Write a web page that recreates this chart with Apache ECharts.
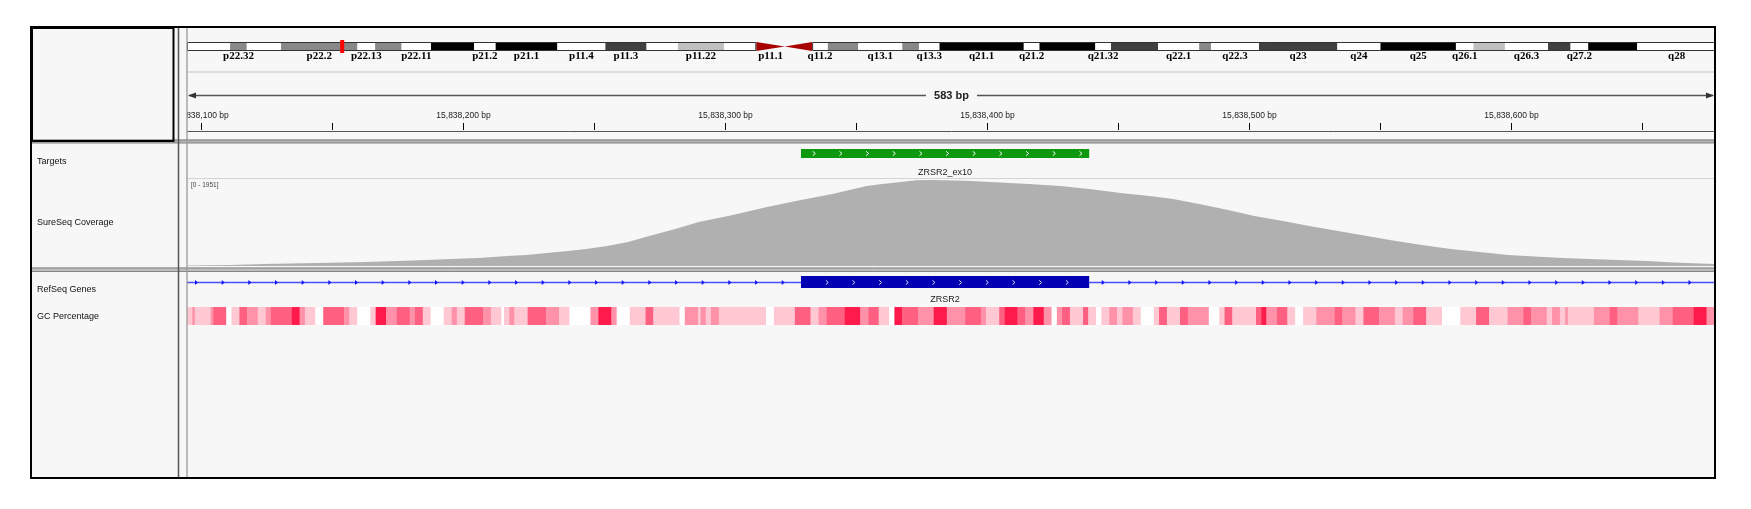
<!DOCTYPE html>
<html><head><meta charset="utf-8">
<script src="https://cdn.jsdelivr.net/npm/echarts@6/dist/echarts.min.js"></script>
<style>html,body{margin:0;padding:0;background:#fff;}#c{width:1751px;height:509px;}</style>
</head><body><div id="c"></div>
<script>
// ---------------- data ----------------
const viewStart = 15838094.66, viewEnd = 15838678.24;
const chromLength = 156040895;
const cursorPos = 15838386;
const bandNames  = ['p22.33','p22.32','p22.31','p22.2','p22.13','p22.12','p22.11','p21.3','p21.2','p21.1','p11.4','p11.3','p11.23','p11.22','p11.21','p11.1','q11.1','q11.2','q12','q13.1','q13.2','q13.3','q21.1','q21.2','q21.31','q21.32','q21.33','q22.1','q22.2','q22.3','q23','q24','q25','q26.1','q26.2','q26.3','q27.1','q27.2','q27.3','q28'];
const bandStarts = [0,4400000,6100000,9600000,17400000,19200000,21900000,24900000,29300000,31500000,37800000,42700000,46900000,50100000,54800000,58100000,61000000,63800000,65400000,68500000,73000000,74700000,76800000,85400000,87000000,92700000,94300000,99100000,103300000,104500000,109400000,117400000,121800000,129500000,131300000,134500000,138900000,141200000,143000000,148000000];
const bandEnds   = [4400000,6100000,9600000,17400000,19200000,21900000,24900000,29300000,31500000,37800000,42700000,46900000,50100000,54800000,58100000,61000000,63800000,65400000,68500000,73000000,74700000,76800000,85400000,87000000,92700000,94300000,99100000,103300000,104500000,109400000,117400000,121800000,129500000,131300000,134500000,138900000,141200000,143000000,148000000,156040895];
const bandStains = ['gneg','gpos50','gneg','gpos50','gneg','gpos50','gneg','gpos100','gneg','gpos100','gneg','gpos75','gneg','gpos25','gneg','acen','acen','gneg','gpos50','gneg','gpos50','gneg','gpos100','gneg','gpos100','gneg','gpos75','gneg','gpos50','gneg','gpos75','gneg','gpos100','gneg','gpos25','gneg','gpos75','gneg','gpos100','gneg'];
const bandLabels = ['p22.32','p22.2','p22.13','p22.11','p21.2','p21.1','p11.4','p11.3','p11.22','p11.1','q11.2','q13.1','q13.3','q21.1','q21.2','q21.32','q22.1','q22.3','q23','q24','q25','q26.1','q26.3','q27.2','q28'];

const tickPositions = [15838100,15838150,15838200,15838250,15838300,15838350,15838400,15838450,15838500,15838550,15838600,15838650];
const tickLabels = ['15,838,100 bp','','15,838,200 bp','','15,838,300 bp','','15,838,400 bp','','15,838,500 bp','','15,838,600 bp',''];
const spanLabel = '583 bp';

const targetName = 'ZRSR2_ex10';
const targetStart = 15838329, targetEnd = 15838439;
const geneName = 'ZRSR2';
const geneStart = 15790000, geneEnd = 15845000;
const exonStart = 15838329, exonEnd = 15838439;

const covRangeLabel = '[0 - 1951]';
const covMax = 1951;
const covPos = [15838095,15838111,15838124,15838144,15838163,15838175,15838186,15838195,15838206,15838217,15838224,15838232,15838240,15838247,15838255,15838263,15838271,15838281,15838290,15838303,15838316,15838329,15838341,15838354,15838360,15838367,15838373,15838379,15838392,15838405,15838416,15838428,15838439,15838451,15838462,15838471,15838481,15838492,15838502,15838513,15838523,15838534,15838545,15838556,15838566,15838577,15838588,15838599,15838609,15838620,15838630,15838641,15838652,15838662,15838672,15838678];
const covVal = [11,22,45,67,90,112,135,157,179,224,247,291,336,381,448,538,672,829,986,1142,1322,1478,1613,1792,1837,1882,1925,1930,1910,1870,1837,1792,1725,1635,1568,1501,1389,1254,1120,1008,896,784,672,560,470,381,314,246,213,179,157,134,112,78,56,45];

// GC percentage track: [offset from gcOrigin (bp), GC class 0..4]
const gcOrigin = 15838094.66;
const gcTrackEnd = 584;
const gcRuns = [[0,1],[2,2],[3,1],[9,2],[10,3],[15,0],[17,1],[20,3],[23,2],[27,1],[30,2],[32,3],[40,4],[43,2],[45,1],[49,0],[52,3],[60,2],[62,1],[65,0],[70,1],[72,4],[76,2],[80,3],[85,2],[87,3],[90,1],[93,0],[98,1],[101,2],[103,1],[106,3],[113,2],[116,1],[120,0],[121,1],[123,2],[125,1],[130,3],[137,2],[142,1],[146,0],[154,2],[157,4],[162,2],[164,0],[169,1],[175,3],[178,1],[188,0],[190,2],[195,1],[196,2],[198,1],[200,2],[203,1],[221,0],[224,1],[232,3],[238,1],[241,2],[244,3],[251,4],[257,2],[260,3],[264,1],[268,0],[270,4],[273,3],[279,2],[285,4],[290,2],[297,3],[303,2],[305,1],[310,3],[312,4],[317,3],[320,2],[323,4],[327,2],[330,0],[332,2],[334,3],[337,1],[342,3],[344,1],[347,0],[349,1],[352,2],[355,1],[357,2],[361,1],[364,0],[369,1],[371,3],[374,1],[379,3],[382,2],[390,0],[394,1],[396,3],[399,1],[408,3],[410,4],[412,2],[416,3],[420,1],[423,0],[426,1],[431,2],[438,3],[441,2],[446,1],[449,3],[455,2],[461,1],[464,2],[468,3],[473,1],[479,0],[486,1],[492,3],[497,1],[504,2],[510,3],[513,2],[519,1],[521,2],[524,1],[526,2],[527,1],[537,2],[543,3],[546,2],[554,1],[562,2],[567,3],[575,4],[580,2]];

const trackNames = ['Targets','SureSeq Coverage','RefSeq Genes','GC Percentage'];

// ---------------- styles ----------------
const stainColor = {gneg:'#ffffff', gpos25:'#c0c0c0', gpos50:'#888888', gpos75:'#404040', gpos100:'#000000'};
const gcColors = ['#ffffff','#ffc8d3','#ff92a8','#ff5f80','#ff1a4c'];
const SANS = '"Liberation Sans", Arial, sans-serif';
const L = 187, W = 1529;

const chart = echarts.init(document.getElementById('c'), null, {renderer:'canvas', width:1751, height:509});

const pEnd = bandStarts[bandStains.indexOf('acen')];
const qStart = bandEnds[bandStains.lastIndexOf('acen')];

const grids = [
  {left:L, width:W, top:42, height:9},
  {left:L, width:W, top:27, height:114},
  {left:L, width:W, top:142, height:37},
  {left:L, width:W, top:179, height:87},
  {left:L, width:W, top:273, height:30},
  {left:L, width:W, top:307, height:18}
].map(g => Object.assign(g, {containLabel:false, outerBoundsMode:'none'}));

const xAxes = [{gridIndex:0, type:'value', min:0, max:chromLength, show:false}];
for (let g = 1; g < 6; g++) xAxes.push({gridIndex:g, type:'value', min:viewStart, max:viewEnd, show:false});
const yAxes = [];
for (let g = 0; g < 6; g++) yAxes.push({gridIndex:g, type:'value', min:0, max:(g===3?covMax:1), show:false});

const series = [];

// ideogram bands
series.push({
  type:'custom', xAxisIndex:0, yAxisIndex:0, clip:false, silent:true, z:3,
  data: bandNames.map((n,i)=>[bandStarts[i], bandEnds[i], i]),
  renderItem(params, api){
    const i = api.value(2);
    const cs = params.coordSys;
    const x1 = api.coord([api.value(0),0])[0], x2 = api.coord([api.value(1),0])[0];
    const y = cs.y, h = cs.height;
    const ch = [];
    if (bandStains[i] === 'acen') {
      const ym = y + h/2;
      const pts = bandNames[i][0] === 'p' ? [[x1,y],[x2,ym],[x1,y+h]] : [[x2,y],[x1,ym],[x2,y+h]];
      ch.push({type:'polygon', shape:{points:pts}, style:{fill:'#a80000'}});
    } else {
      ch.push({type:'rect', shape:{x:x1, y:y, width:x2-x1, height:h}, style:{fill:stainColor[bandStains[i]]}});
    }
    if (bandLabels.indexOf(bandNames[i]) >= 0) {
      ch.push({type:'text', style:{text:bandNames[i], x:(x1+x2)/2, y:y+h+5.5, align:'center', verticalAlign:'middle', font:'bold 11px "Liberation Serif", serif', fill:'#000'}});
    }
    return {type:'group', children:ch};
  }
});
// chromosome arm outlines + cursor
series.push({
  type:'custom', xAxisIndex:0, yAxisIndex:0, clip:false, silent:true, z:4,
  data: [[0, pEnd, 0],[qStart, chromLength, 0],[cursorPos, cursorPos, 1]],
  renderItem(params, api){
    const cs = params.coordSys;
    const x1 = api.coord([api.value(0),0])[0], x2 = api.coord([api.value(1),0])[0];
    if (api.value(2) === 1) {
      return {type:'rect', shape:{x:x1-2, y:cs.y-2, width:4, height:cs.height+4}, style:{fill:'#ff0000'}};
    }
    return {type:'rect', shape:{x:x1+0.5, y:cs.y+0.5, width:x2-x1-1, height:cs.height-1}, style:{fill:null, stroke:'#333', lineWidth:1}};
  }
});

// ruler ticks & labels
series.push({
  type:'custom', xAxisIndex:1, yAxisIndex:1, clip:true, silent:true, z:3,
  data: tickPositions.map((p,i)=>[p,i]),
  renderItem(params, api){
    const x = Math.round(api.coord([api.value(0),0])[0]) + 0.5;
    const i = api.value(1);
    const ch = [{type:'line', shape:{x1:x, y1:123, x2:x, y2:130}, style:{stroke:'#000', lineWidth:1}}];
    if (tickLabels[i]) ch.push({type:'text', style:{text:tickLabels[i], x:x, y:116, align:'center', verticalAlign:'middle', font:'8.5px ' + SANS, fill:'#222'}});
    return {type:'group', children:ch};
  }
});
// span line
series.push({
  type:'custom', xAxisIndex:1, yAxisIndex:1, clip:false, silent:true, z:3,
  data: [[viewStart, viewEnd]],
  renderItem(params, api){
    const x1 = api.coord([api.value(0),0])[0], x2 = api.coord([api.value(1),0])[0];
    const y = 95.5, c = (x1+x2)/2, gap = 25.5;
    return {type:'group', children:[
      {type:'line', shape:{x1:x1+2, y1:y, x2:c-gap, y2:y}, style:{stroke:'#555', lineWidth:1.5}},
      {type:'line', shape:{x1:c+gap, y1:y, x2:x2-3, y2:y}, style:{stroke:'#555', lineWidth:1.5}},
      {type:'polygon', shape:{points:[[x1+1,y],[x1+9,y-3],[x1+9,y+3]]}, style:{fill:'#333'}},
      {type:'polygon', shape:{points:[[x2-2,y],[x2-10,y-3],[x2-10,y+3]]}, style:{fill:'#333'}},
      {type:'text', style:{text:spanLabel, x:c, y:y, align:'center', verticalAlign:'middle', font:'bold 11px ' + SANS, fill:'#222'}}
    ]};
  }
});

// targets
series.push({
  type:'custom', xAxisIndex:2, yAxisIndex:2, clip:true, silent:true, z:3,
  data: [[targetStart, targetEnd]],
  renderItem(params, api){
    const x1 = api.coord([api.value(0),0])[0], x2 = api.coord([api.value(1),0])[0];
    const ch = [{type:'rect', shape:{x:x1, y:149, width:x2-x1, height:9}, style:{fill:'#0d980d'}}];
    for (let x = x1 + 13; x < x2 - 4; x += 26.67) {
      ch.push({type:'polyline', shape:{points:[[x-1.2,151.3],[x+1.3,153.5],[x-1.2,155.7]]}, style:{stroke:'#ffffff', lineWidth:1, fill:null}});
    }
    ch.push({type:'text', style:{text:targetName, x:(x1+x2)/2, y:172.5, align:'center', verticalAlign:'middle', font:'9px ' + SANS, fill:'#222'}});
    return {type:'group', children:ch};
  }
});

// coverage
series.push({
  type:'line', xAxisIndex:3, yAxisIndex:3, silent:true, z:3,
  data: covPos.map((p,i)=>[p, covVal[i]]),
  symbol:'none', lineStyle:{width:0, color:'#b0b0b0'},
  areaStyle:{color:'#b0b0b0', opacity:1}, clip:true
});

// gene
series.push({
  type:'custom', xAxisIndex:4, yAxisIndex:4, clip:true, silent:true, z:3,
  data: [[geneStart, geneEnd, exonStart, exonEnd]],
  renderItem(params, api){
    const cs = params.coordSys;
    const gx1 = Math.max(cs.x, api.coord([api.value(0),0])[0]);
    const gx2 = Math.min(cs.x + cs.width, api.coord([api.value(1),0])[0]);
    const ex1 = api.coord([api.value(2),0])[0], ex2 = api.coord([api.value(3),0])[0];
    const yl = 282.5;
    const ch = [{type:'line', shape:{x1:gx1, y1:yl, x2:gx2, y2:yl}, style:{stroke:'#4b4bff', lineWidth:1.6}}];
    for (let x = cs.x + 9.5; x < gx2; x += 26.67) {
      if (x < ex1 - 2 || x > ex2 + 2) ch.push({type:'polygon', shape:{points:[[x-1.5,yl-2.5],[x+1.5,yl],[x-1.5,yl+2.5]]}, style:{fill:'#1010ff'}});
    }
    ch.push({type:'rect', shape:{x:ex1, y:276, width:ex2-ex1, height:12}, style:{fill:'#0000b2'}});
    for (let x = ex1 + 26; x < ex2 - 4; x += 26.67) {
      ch.push({type:'polyline', shape:{points:[[x-1.2,280.3],[x+1.3,282.5],[x-1.2,284.7]]}, style:{stroke:'#d8d8ff', lineWidth:1, fill:null}});
    }
    ch.push({type:'text', style:{text:geneName, x:(ex1+ex2)/2, y:300, align:'center', verticalAlign:'middle', font:'9px ' + SANS, fill:'#222'}});
    return {type:'group', children:ch};
  }
});

// GC percentage
series.push({
  type:'custom', xAxisIndex:5, yAxisIndex:5, clip:true, silent:true, z:3,
  data: gcRuns.map((r,i)=>[gcOrigin + r[0], gcOrigin + (i+1 < gcRuns.length ? gcRuns[i+1][0] : gcTrackEnd), r[1]]),
  renderItem(params, api){
    const cs = params.coordSys;
    const x1 = api.coord([api.value(0),0])[0], x2 = api.coord([api.value(1),0])[0];
    return {type:'rect', shape:{x:x1, y:cs.y, width:x2-x1+0.3, height:cs.height}, style:{fill:gcColors[api.value(2)]}};
  }
});

// ---------------- static frame ----------------
const graphic = [
  {type:'rect', z:-10, silent:true, shape:{x:31, y:27, width:1685, height:451}, style:{fill:'#f7f7f7'}},
  // header separator
  {type:'line', z:1, silent:true, shape:{x1:L, y1:72, x2:L+W, y2:72}, style:{stroke:'#dcdce3', lineWidth:2}},
  {type:'line', z:10, silent:true, shape:{x1:L, y1:131.5, x2:L+W, y2:131.5}, style:{stroke:'#555', lineWidth:1}},
  // header bottom double line
  {type:'rect', z:10, silent:true, shape:{x:31, y:139.5, width:1685, height:3.5}, style:{fill:'#b4b4b4'}},
  {type:'line', z:10, silent:true, shape:{x1:31, y1:140, x2:1716, y2:140}, style:{stroke:'#808080', lineWidth:1}},
  {type:'line', z:10, silent:true, shape:{x1:31, y1:143, x2:1716, y2:143}, style:{stroke:'#808080', lineWidth:1}},
  // coverage top line
  {type:'line', z:10, silent:true, shape:{x1:L, y1:178.5, x2:L+W, y2:178.5}, style:{stroke:'#d4d4d4', lineWidth:1}},
  // divider
  {type:'rect', z:10, silent:true, shape:{x:31, y:267.5, width:1685, height:4.5}, style:{fill:'#bdbdbd'}},
  {type:'line', z:10, silent:true, shape:{x1:31, y1:268, x2:1716, y2:268}, style:{stroke:'#858585', lineWidth:1}},
  {type:'line', z:10, silent:true, shape:{x1:31, y1:271.5, x2:1716, y2:271.5}, style:{stroke:'#858585', lineWidth:1}},
  // vertical separators
  {type:'line', z:11, silent:true, shape:{x1:178.5, y1:27, x2:178.5, y2:478}, style:{stroke:'#555', lineWidth:1.5}},
  {type:'line', z:11, silent:true, shape:{x1:187, y1:27, x2:187, y2:478}, style:{stroke:'#9a9a9a', lineWidth:1.3}},
  // header name box
  {type:'rect', z:12, silent:true, shape:{x:32, y:28, width:141.5, height:113}, style:{fill:null, stroke:'#000', lineWidth:2}},
  // outer frame
  {type:'rect', z:12, silent:true, shape:{x:31, y:27, width:1684, height:451}, style:{fill:null, stroke:'#000', lineWidth:2}},
  // range label
  {type:'text', z:12, silent:true, style:{text:covRangeLabel, x:191, y:185.5, verticalAlign:'middle', font:'6.5px ' + SANS, fill:'#444'}}
];
const labelY = [162, 223, 290, 317];
trackNames.forEach((t,i)=>graphic.push({type:'text', z:12, silent:true, style:{text:t, x:37, y:labelY[i], verticalAlign:'middle', font:'9px ' + SANS, fill:'#111'}}));

chart.setOption({
  backgroundColor:'#ffffff',
  animation:false,
  grid:grids, xAxis:xAxes, yAxis:yAxes,
  series:series,
  graphic:graphic
});
</script>
</body></html>
